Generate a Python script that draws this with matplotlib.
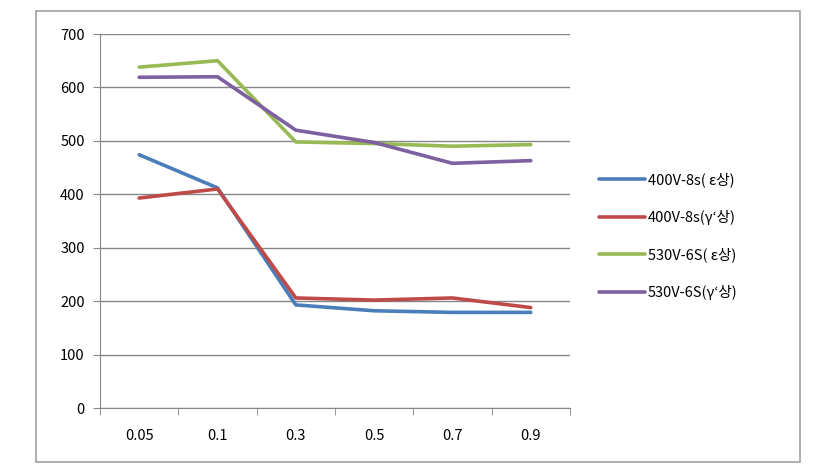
import numpy as np
import matplotlib.pyplot as plt
from matplotlib.patches import Rectangle

plt.rcParams['font.family'] = ['Noto Sans CJK KR', 'DejaVu Sans']

# data
categories = ["0.05", "0.1", "0.3", "0.5", "0.7", "0.9"]
s400_eps = [474, 412, 193, 182, 179, 179]
s400_gam = [393, 410, 206, 202, 206, 188]
s530_eps = [638, 650, 498, 495, 490, 493]
s530_gam = [619, 620, 520, 497, 458, 463]
labels = ["400V-8s( ε상)", "400V-8s(γ‘상)", "530V-6S( ε상)", "530V-6S(γ‘상)"]
colors = ["#4A7EBB", "#BE4B48", "#98B954", "#7D60A0"]

fig = plt.figure(figsize=(8.2, 4.69), dpi=100)
ax = fig.add_axes([0.122, 0.13, 0.573, 0.7975])

x = np.arange(len(categories))
series = [s400_eps, s400_gam, s530_eps, s530_gam]
for vals, lab, c in zip(series, labels, colors):
    ax.plot(x, vals, color=c, lw=2.6, label=lab, solid_capstyle='round')

ax.set_xlim(-0.5, len(categories) - 0.5)
ax.set_ylim(0, 700)
ax.set_yticks(np.arange(0, 701, 100))
ax.set_xticks(x)
ax.set_xticklabels(categories)
ax.set_xticks(np.arange(-0.5, len(categories), 1), minor=True)
ax.tick_params(axis='x', which='major', length=0, pad=15, labelsize=10.5)
ax.tick_params(axis='x', which='minor', length=5, color='#868686', direction='out')
ax.tick_params(axis='y', length=5, color='#868686', labelsize=10.5, pad=6)

ax.grid(axis='y', color='#868686', lw=1)
ax.set_axisbelow(True)
for s in ['top', 'right']:
    ax.spines[s].set_visible(False)
for s in ['left', 'bottom']:
    ax.spines[s].set_color('#868686')

leg = ax.legend(loc='center left', bbox_to_anchor=(1.035, 0.46), frameon=False,
                fontsize=10.5, handlelength=3.1, handletextpad=0.2, labelspacing=1.55)

fig.patches.append(Rectangle((0.044, 0.015), 0.932, 0.962, transform=fig.transFigure,
                             fill=False, edgecolor='#A0A0A0', lw=1.2))

plt.savefig("out.png", dpi=100)
